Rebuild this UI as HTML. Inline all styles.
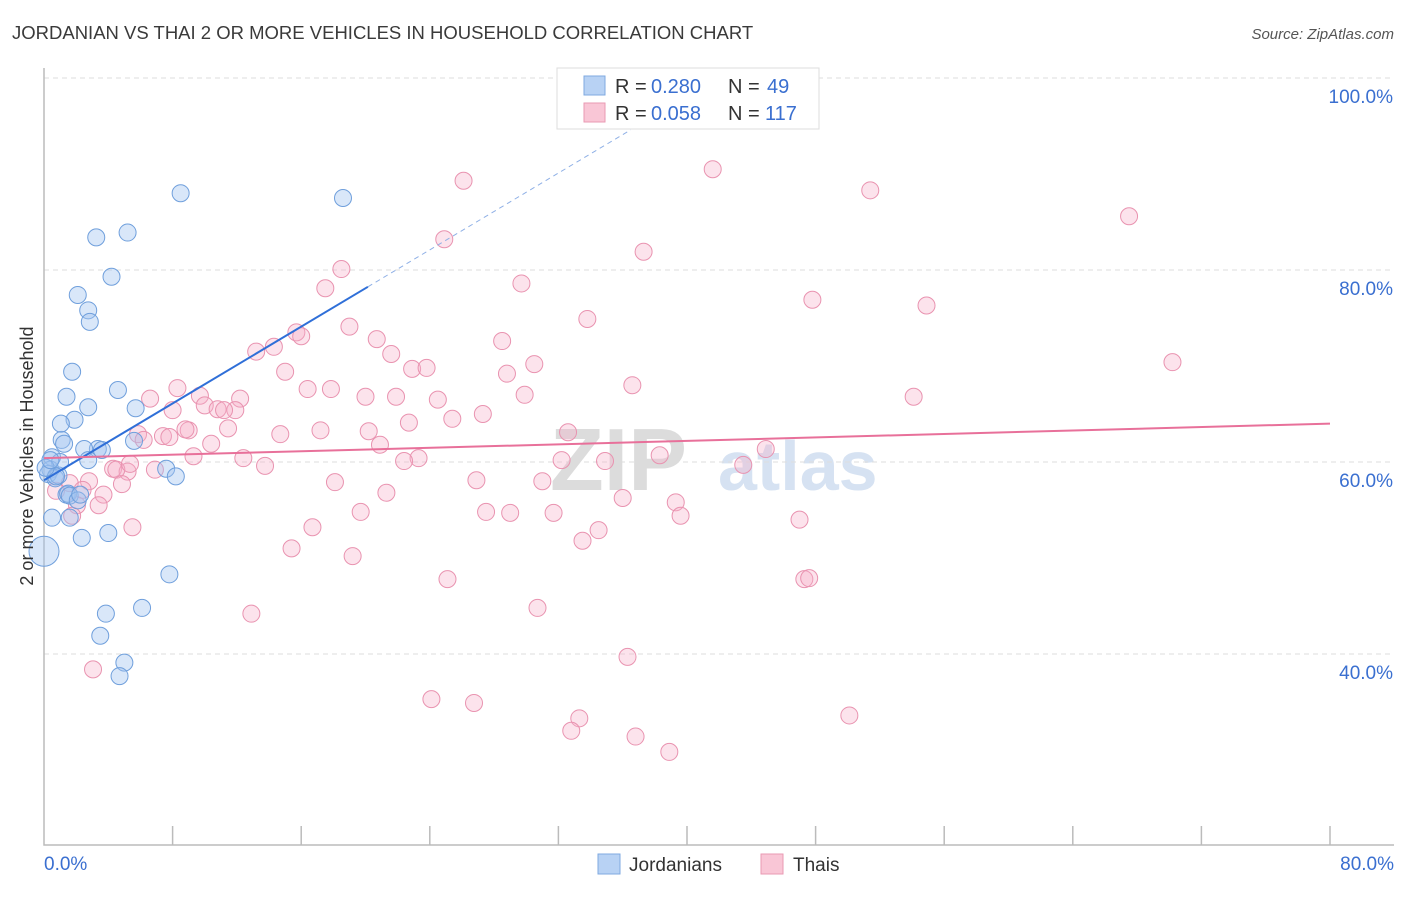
<!DOCTYPE html>
<html><head><meta charset="utf-8"><style>
body{margin:0;background:#fff;font-family:"Liberation Sans",sans-serif;}
svg text{font-family:"Liberation Sans",sans-serif;}
</style></head><body>
<svg id="chart" width="1406" height="892" viewBox="0 0 1406 892" xmlns="http://www.w3.org/2000/svg">
<text x="12" y="39" font-size="18.5" fill="#3a3a3a">JORDANIAN VS THAI 2 OR MORE VEHICLES IN HOUSEHOLD CORRELATION CHART</text>
<text x="1394" y="39" font-size="15" fill="#555" text-anchor="end" font-style="italic">Source: ZipAtlas.com</text>
<g>
<text x="550" y="490" font-size="88" fill="#dcdcdc" font-family="Liberation Serif" font-weight="bold">ZIP</text>
<text x="718" y="490" font-size="70" fill="#d6e2f2" font-weight="bold">atlas</text>
</g>
<g id="grid"></g>
<g id="axes"></g>
<g id="marks"></g>
<text transform="translate(33,456) rotate(-90)" font-size="18" fill="#333" text-anchor="middle">2 or more Vehicles in Household</text>
<g>
<rect x="557" y="68" width="262" height="61" fill="#fff" stroke="#ddd"/>
<rect x="584" y="76" width="21" height="19" fill="#b8d2f4" stroke="#7fa9e0"/>
<text x="615" y="93" font-size="20" fill="#333">R = </text><text x="651" y="93" font-size="20" fill="#3a6fd0">0.280</text>
<text x="728" y="93" font-size="20" fill="#333">N = </text><text x="767" y="93" font-size="20" fill="#3a6fd0">49</text>
<rect x="584" y="103" width="21" height="19" fill="#f9c6d6" stroke="#e99ab3"/>
<text x="615" y="120" font-size="20" fill="#333">R = </text><text x="651" y="120" font-size="20" fill="#3a6fd0">0.058</text>
<text x="728" y="120" font-size="20" fill="#333">N = </text><text x="765" y="120" font-size="20" fill="#3a6fd0">117</text>
</g>
<g>
<rect x="598" y="854" width="22" height="20" fill="#b8d2f4" stroke="#7fa9e0"/>
<text x="629" y="871" font-size="19" fill="#333">Jordanians</text>
<rect x="761" y="854" width="22" height="20" fill="#f9c6d6" stroke="#e99ab3"/>
<text x="793" y="871" font-size="19" fill="#333">Thais</text>
</g>
</svg>
<script>
const xTickLabels = ["0.0%", "80.0%"];
const yTicks = [40, 60, 80, 100];
const yTickLabels = ["40.0%", "60.0%", "80.0%", "100.0%"];
const jordX = [0,0.5,0.4,0.25,0.7,0.9,1.0,0.5,1.1,1.25,1.4,1.5,1.6,1.75,1.9,1.4,1.05,2.75,2.1,2.75,2.85,3.25,4.2,5.2,8.5,18.6,4.6,5.7,5.6,3.35,3.6,2.5,2.75,2.1,2.25,2.35,4.0,1.6,7.6,8.2,7.8,6.1,3.85,3.5,5.0,4.7,0.75,0.1,0.4];
const jordY = [50.7,60.5,59.2,58.75,58.3,58.6,60.0,54.2,62.3,61.9,56.6,56.7,56.5,69.4,64.4,66.8,64.0,65.7,77.4,75.8,74.6,83.4,79.3,83.9,88.0,87.5,67.5,65.6,62.2,61.35,61.25,61.35,60.2,56.0,56.6,52.1,52.6,54.2,59.3,58.5,48.3,44.8,44.2,41.9,39.1,37.7,58.5,59.4,60.2];
const thaiX = [26.1,41.6,51.4,67.5,24.9,37.3,18.5,29.7,17.5,47.8,54.9,33.8,15.7,19.0,20.7,16.0,28.5,14.3,21.6,13.2,70.2,30.5,22.9,23.8,28.8,15.0,36.6,8.3,17.85,16.4,20.0,21.9,29.9,24.5,6.6,12.2,9.7,10.0,54.1,8.0,10.8,11.9,11.2,27.3,25.4,22.7,11.45,9.0,8.8,17.2,20.2,32.6,14.7,5.85,7.4,7.8,10.4,20.9,44.9,9.3,38.3,12.4,23.3,22.4,32.2,34.9,43.5,13.75,6.9,4.3,5.2,4.5,18.1,26.9,31.0,4.85,2.8,1.6,2.4,0.75,3.7,21.3,36.0,39.3,2.05,3.4,27.5,29.0,31.7,39.6,19.7,47.0,1.75,5.5,16.7,34.5,33.5,15.4,19.2,25.1,47.3,47.6,30.7,12.9,36.3,3.05,24.1,26.75,33.3,50.1,32.8,36.8,38.9,5.35,6.2];
const thaiY = [89.3,90.5,88.3,85.6,83.2,81.9,80.1,78.6,78.1,76.9,76.3,74.9,73.5,74.1,72.8,73.1,72.6,72.0,71.25,71.5,70.4,70.2,69.7,69.8,69.2,69.4,68.0,67.7,67.6,67.6,66.8,66.8,67.0,66.5,66.6,66.6,66.9,65.9,66.8,65.4,65.5,65.4,65.4,65.0,64.5,64.1,63.5,63.3,63.4,63.3,63.2,63.1,62.9,62.9,62.7,62.6,61.9,61.8,61.35,60.6,60.7,60.4,60.4,60.1,60.2,60.1,59.7,59.6,59.2,59.3,59.0,59.2,57.9,58.1,58.0,57.7,58.0,57.8,57.1,57.0,56.6,56.8,56.25,55.8,55.5,55.5,54.8,54.7,54.7,54.4,54.8,54.0,54.4,53.2,53.2,52.9,51.8,51.0,50.2,47.8,47.8,47.9,44.8,44.2,39.7,38.4,35.3,34.9,33.3,33.6,32.0,31.4,29.8,59.8,62.3];
const jordTrend = [58.1, 1.0];   // intercept, slope
const thaiTrend = [60.4, 0.045];

const NS = "http://www.w3.org/2000/svg";
const X0 = 44, X1 = 1330, Y60 = 462, PXPER = 9.6;
function sx(v){ return X0 + v * (X1 - X0) / 80; }
function sy(v){ return Y60 - (v - 60) * PXPER; }
function mk(tag, attrs, parent){ const e = document.createElementNS(NS, tag); for (const k in attrs) e.setAttribute(k, attrs[k]); parent.appendChild(e); return e; }

const grid = document.getElementById('grid');
const axes = document.getElementById('axes');
const marks = document.getElementById('marks');

yTicks.forEach((t, i) => {
  const l = mk('line', {x1: 44, x2: 1394, y1: sy(t), y2: sy(t), stroke: '#ddd', 'stroke-dasharray': '5,4'}, grid);
  
  
  const tx = mk('text', {x: 1393, y: sy(t) + 25, 'font-size': 19, fill: '#3a6fd0', 'text-anchor': 'end'}, axes);
  tx.textContent = yTickLabels[i];
  
  
});
const ax = mk('path', {d: 'M44 68 V845 H1394', stroke: '#bbb', fill: 'none', 'stroke-width': 1.5}, axes);


for (let i = 1; i <= 10; i++) {
  const t = mk('line', {x1: sx(i * 8), x2: sx(i * 8), y1: 826, y2: 845, stroke: '#bbb', 'stroke-width': 1.5}, axes);
  
  
}
const xl0 = mk('text', {x: 44, y: 870, 'font-size': 19, fill: '#3a6fd0'}, axes);
xl0.textContent = xTickLabels[0];


const xl1 = mk('text', {x: 1394, y: 870, 'font-size': 19, fill: '#3a6fd0', 'text-anchor': 'end'}, axes);
xl1.textContent = xTickLabels[1];



thaiX.forEach((x, i) => {
  const c = mk('circle', {cx: sx(x), cy: sy(thaiY[i]), r: 8.5, fill: 'rgba(247,176,200,0.35)', stroke: '#e993b0', 'stroke-width': 1}, marks);
  
  
});
jordX.forEach((x, i) => {
  const c = mk('circle', {cx: sx(x), cy: sy(jordY[i]), r: i === 0 ? 15 : 8.5, fill: 'rgba(160,196,240,0.4)', stroke: '#6f9fdc', 'stroke-width': 1}, marks);
  
  
});

const jx2 = 20.15, jx3 = 36.5;
const jl = mk('line', {x1: sx(0), y1: sy(jordTrend[0]), x2: sx(jx2), y2: sy(jordTrend[0] + jordTrend[1] * jx2), stroke: '#2f6fd8', 'stroke-width': 2}, marks);


const jd = mk('line', {x1: sx(jx2), y1: sy(jordTrend[0] + jordTrend[1] * jx2), x2: sx(jx3), y2: sy(jordTrend[0] + jordTrend[1] * jx3), stroke: '#8fb0e6', 'stroke-width': 1, 'stroke-dasharray': '5,4'}, marks);


const tl = mk('line', {x1: sx(0), y1: sy(thaiTrend[0]), x2: sx(80), y2: sy(thaiTrend[0] + thaiTrend[1] * 80), stroke: '#e8709a', 'stroke-width': 2}, marks);


</script>
</body></html>
